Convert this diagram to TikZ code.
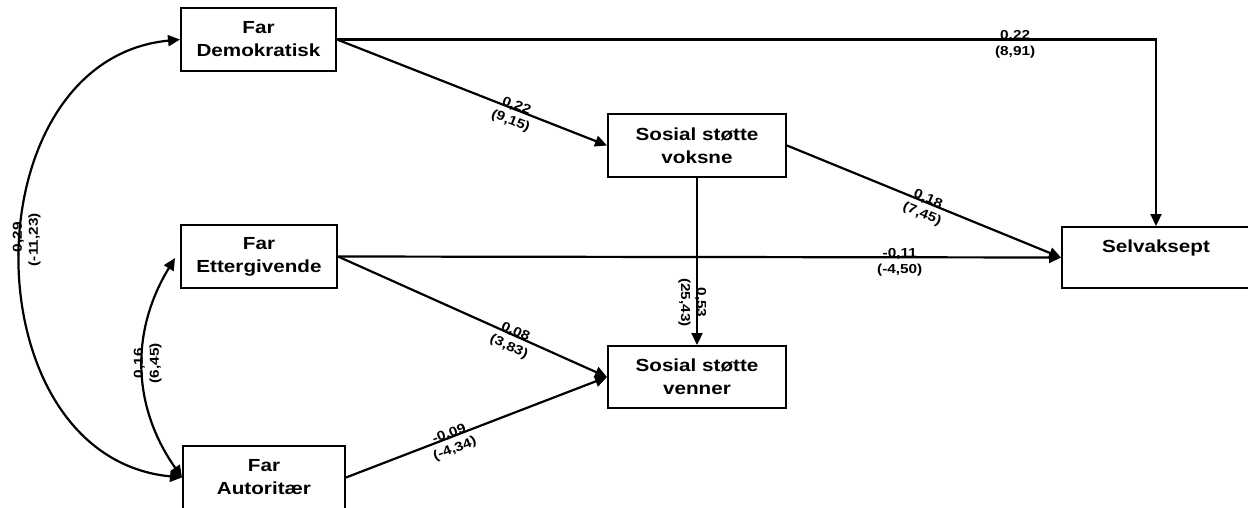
\documentclass[tikz,border=0pt]{standalone}
\usepackage{fontspec}
\setmainfont{Liberation Sans}[FakeStretch=1.18]
\usetikzlibrary{arrows.meta}
\newcommand{\twolab}[2]{\begin{tabular}[t]{@{}c@{}}#1\\#2\end{tabular}}
\begin{document}
\begin{tikzpicture}[x=1pt,y=-1pt,
  box/.style={draw, line width=2pt, minimum height=63pt, inner sep=0pt, align=center,
    font=\bfseries\fontsize{17.5}{23}\selectfont},
  lab/.style={font=\bfseries\fontsize{13}{16}\selectfont, inner sep=0pt, anchor=base},
  conn/.style={line width=2.2pt, -{Triangle[length=12pt,width=11pt]}},
  dconn/.style={line width=2.2pt, {Triangle[length=12pt,width=11pt]}-{Triangle[length=12pt,width=11pt]}}]
\useasboundingbox (0,0) rectangle (1248,507);
\clip (0,0) rectangle (1248,507);

\node[box, minimum width=155pt] (dem) at (258.5,39.5) {Far\\Demokratisk};
\node[box, minimum width=156pt] (ett) at (259,256.5) {Far\\Ettergivende};
\node[box, minimum width=162pt] (aut) at (264,477.5) {Far\\Autoritær};
\node[box, minimum width=178pt] (vok) at (697,145.5) {Sosial støtte\\voksne};
\node[box, minimum width=178pt, minimum height=62pt] (ven) at (697,377) {Sosial støtte\\venner};
\node[box, minimum width=188pt, minimum height=61pt] (sel) at (1156,257.5) {Selvaksept\\\mbox{}};

\draw[conn] (dem.east) -- node[lab, pos=0.828] {\twolab{0,22}{(8,91)}} (dem.east -| sel.north) -- (sel.north);
\draw[conn] (dem.east) -- node[lab, sloped, pos=0.66] {\twolab{0,22}{(9,15)}} (vok.west);
\draw[conn] (vok.east) -- node[lab, sloped, pos=0.51] {\twolab{0,18}{(7,45)}} (sel.west);
\draw[conn] (ett.east) -- node[lab, sloped, pos=0.777] {\twolab{-0,11}{(-4,50)}} (sel.west);
\draw[conn] (ett.east) -- node[lab, sloped, pos=0.654] {\twolab{0,08}{(3,83)}} (ven.west);
\draw[conn] (aut.east) -- node[lab, sloped, pos=0.40] {\twolab{-0,09}{(-4,34)}} (ven.west);
\draw[conn] (vok.south) -- node[lab, rotate=-90, pos=0.745] {\twolab{0,53}{(25,43)}} (ven.north);

\draw[dconn] (dem.west) .. controls (-32,60) and (-32,457) .. node[lab, rotate=90, pos=0.47] {\twolab{-0,29}{(-11,23)}} (aut.west);
\coordinate (e1) at (175,258);
\draw[dconn] (e1) .. controls (131,330) and (131,405) .. node[lab, rotate=90, pos=0.48] {\twolab{0,16}{(6,45)}} (aut.west);
\end{tikzpicture}
\end{document}
